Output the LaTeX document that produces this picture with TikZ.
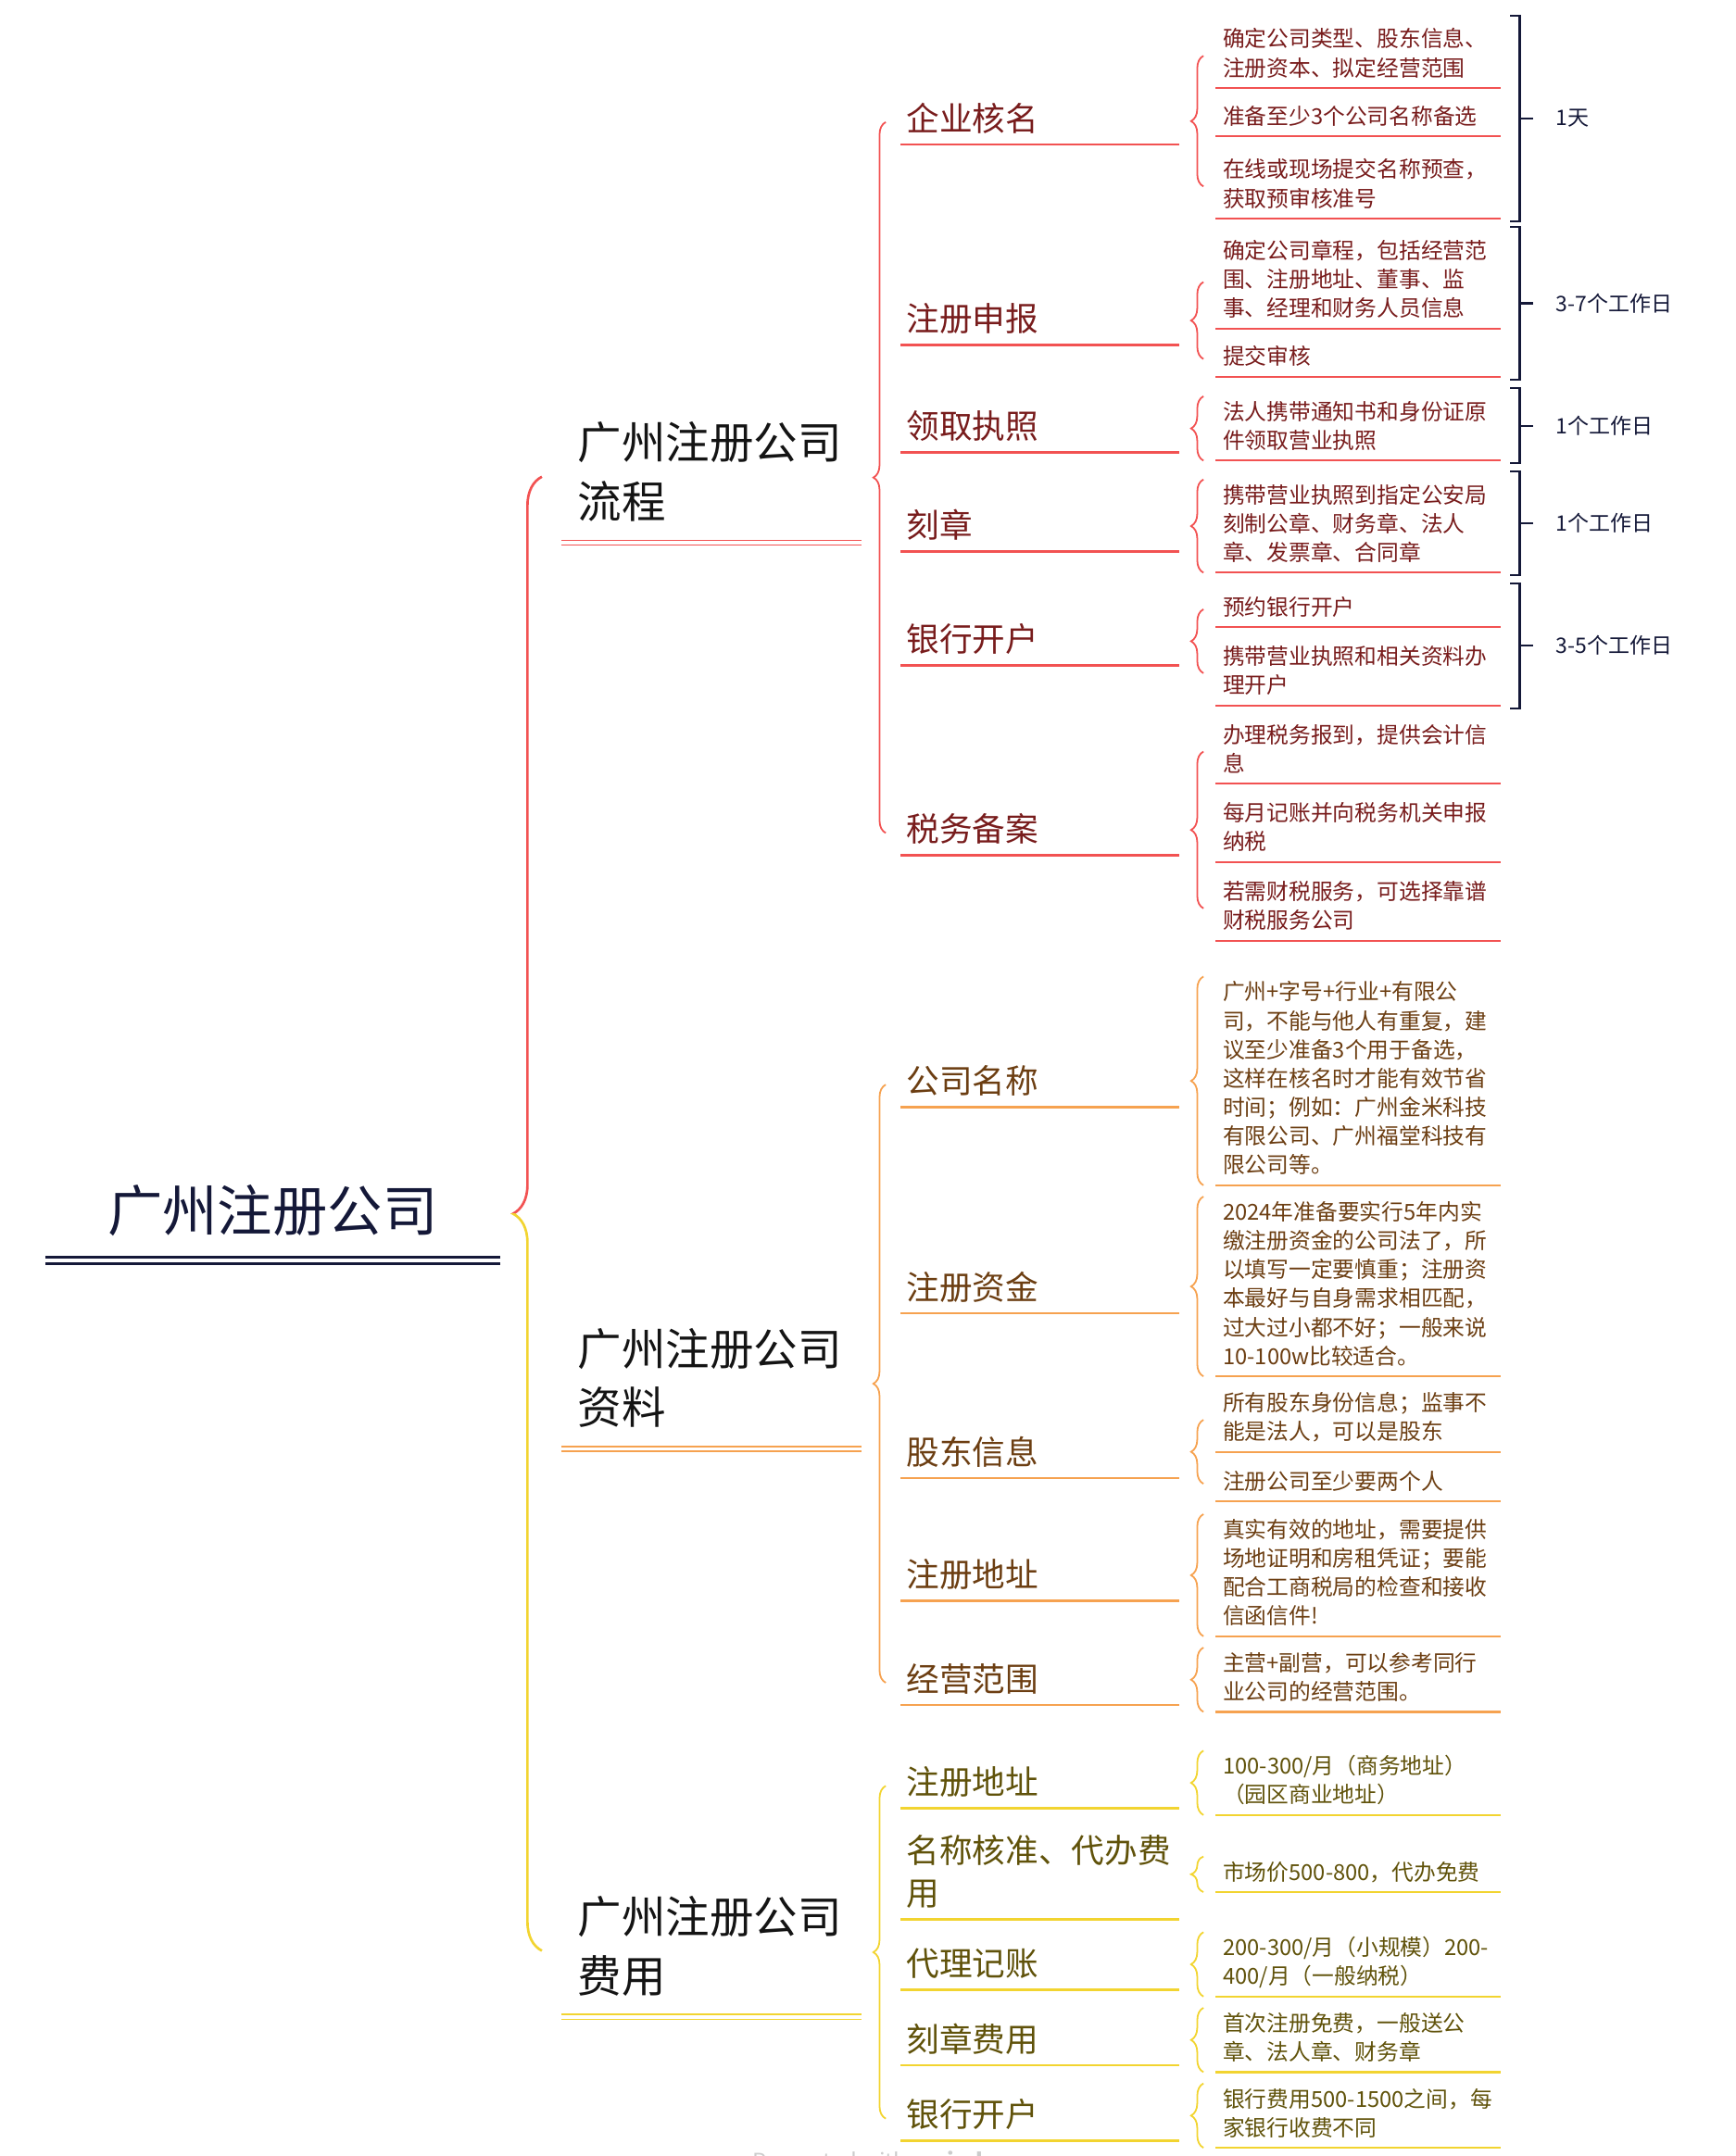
\documentclass[tikz,border=0pt]{standalone}
\usepackage{fontspec}
\setmainfont{Noto Sans CJK SC}
\usepackage{xcolor}
\usetikzlibrary{calc}
\usetikzlibrary{decorations.pathreplacing}

\definecolor{navy}{RGB}{20,24,56}
\definecolor{procline}{RGB}{242,82,82}
\definecolor{proctext}{RGB}{120,28,28}
\definecolor{infoline}{RGB}{246,162,80}
\definecolor{infotext}{RGB}{108,62,18}
\definecolor{costline}{RGB}{242,212,48}
\definecolor{costtext}{RGB}{96,82,10}

\tikzset{
	rootnode/.style={anchor=south west, text width=240pt, inner xsep=45pt, inner ysep=4.6pt, align=center, text=navy, font=\fontsize{40}{48}\selectfont, execute at begin node=\strut, execute at end node=\strut},
	mainnode/.style={anchor=south west, text width=194pt, inner xsep=12pt, inner ysep=3.1pt, align=left, text=black!92, font=\fontsize{32}{43}\selectfont, execute at begin node=\strut, execute at end node=\strut},
	topicnode/.style={anchor=south west, text width=194pt, inner xsep=4pt, inner ysep=0.5pt, align=left, font=\fontsize{24}{31}\selectfont, execute at begin node=\strut, execute at end node=\strut},
	leafnode/.style={anchor=south west, text width=197pt, inner xsep=5pt, inner ysep=2.2pt, align=left, font=\fontsize{16}{21}\selectfont, execute at begin node=\strut, execute at end node=\strut},
	daynode/.style={anchor=west, inner sep=0pt, text=navy, font=\fontsize{15.5}{19}\selectfont},
	dayline/.style={draw=navy, line width=1.5pt},
	bracedec/.style={decorate, decoration={brace, amplitude=#1}},
	proc text/.style={text=proctext},
	info text/.style={text=infotext},
	cost text/.style={text=costtext},
	proc line/.style={draw=procline, line width=1.4pt},
	info line/.style={draw=infoline, line width=1.4pt},
	cost line/.style={draw=costline, line width=1.4pt}
}

% level 2 topic with its underline
\newcommand\topicitem[4]{%
	\node[topicnode, #1 text] (#2) at (655,#3) {#4};
	\draw[#1 line, line width=1.8pt] (#2.south west) -- (#2.south east);
}
% leaf text with its underline
\newcommand\leafitem[4]{%
	\node[leafnode, #1 text] (#2) at (884,#3) {#4};
	\draw[#1 line] (#2.south west) -- (#2.south east);
}
\newcommand\leafbrace[3]{%
	\draw[#1 line, line width=1.2pt, bracedec=9pt] (leafbx |- #3) -- (leafbx |- #2);
}
\newcommand\doubleline[2]{%
	\draw[#2 line, line width=1pt] (#1.south west) -- (#1.south east);
	\draw[#2 line, line width=1pt] ([yshift=-3.5pt]#1.south west) -- ([yshift=-3.5pt]#1.south east);
}
\newcommand\daybracket[4]{%
	\coordinate (#3t) at ($(daybx |- #1.north)+(0,-6)$);
	\coordinate (#3b) at ($(daybx |- #2.south)+(0,2)$);
	\coordinate (#3m) at ($(#3t)!0.5!(#3b)$);
	\node[daynode] (#3) at ($(#3m)+(26,0)$) {#4};
	\draw[dayline] ($(#3t)+(-7,0)$) -- (#3t) -- (#3b) -- ($(#3b)+(-7,0)$);
	\draw[dayline] (#3m) -- ($(#3m)+(10,0)$);
}

\begin{document}
\begin{tikzpicture}[x=1pt,y=-1pt]
	\useasboundingbox (0,0) rectangle (1262,1568);
	\coordinate (rootbx) at (394,0);
	\coordinate (topbx) at (644,0);
	\coordinate (leafbx) at (875,0);
	\coordinate (daybx) at (1105,0);
	\coordinate (clipx) at (430,0);

	% root and main branches
	\node[rootnode] (root) at (33,914.5) {广州注册公司};
	\draw[navy, line width=1.8pt] (root.south west) -- (root.south east);
	\draw[navy, line width=1.8pt] ([yshift=-4.5pt]root.south west) -- ([yshift=-4.5pt]root.south east);

	\node[mainnode] (proc) at (408,393) {广州注册公司\\流程};
	\node[mainnode] (info) at (408,1052) {广州注册公司\\资料};
	\node[mainnode] (cost) at (408,1465) {广州注册公司\\费用};
	\doubleline{proc}{proc}
	\doubleline{info}{info}
	\doubleline{cost}{cost}

	\coordinate (rootmid) at ($(proc.west)!0.5!(cost.west)$);
	\begin{scope}
		\clip (300,0) rectangle (rootmid -| clipx);
		\draw[proc line, line width=1.8pt, bracedec=21pt] (rootbx |- cost.west) -- (rootbx |- proc.west);
	\end{scope}
	\begin{scope}
		\clip (300,1568) rectangle (rootmid -| clipx);
		\draw[cost line, line width=1.8pt, bracedec=21pt] (rootbx |- cost.west) -- (rootbx |- proc.west);
	\end{scope}

	% 流程
	\topicitem{proc}{p1}{105}{企业核名}
	\topicitem{proc}{p2}{251}{注册申报}
	\topicitem{proc}{p3}{329}{领取执照}
	\topicitem{proc}{p4}{401}{刻章}
	\topicitem{proc}{p5}{484}{银行开户}
	\topicitem{proc}{p6}{622}{税务备案}
	\draw[proc line, line width=1.2pt, bracedec=9pt] (topbx |- p6.west) -- (topbx |- p1.west);

	\leafitem{proc}{p1a}{64}{确定公司类型、股东信息、\\注册资本、拟定经营范围}
	\leafitem{proc}{p1b}{99}{准备至少3个公司名称备选}
	\leafitem{proc}{p1c}{159}{在线或现场提交名称预查，\\获取预审核准号}
	\leafitem{proc}{p2a}{239}{确定公司章程，包括经营范\\围、注册地址、董事、监\\事、经理和财务人员信息}
	\leafitem{proc}{p2b}{274}{提交审核}
	\leafitem{proc}{p3a}{335}{法人携带通知书和身份证原\\件领取营业执照}
	\leafitem{proc}{p4a}{416.5}{携带营业执照到指定公安局\\刻制公章、财务章、法人\\章、发票章、合同章}
	\leafitem{proc}{p5a}{456}{预约银行开户}
	\leafitem{proc}{p5b}{513}{携带营业执照和相关资料办\\理开户}
	\leafitem{proc}{p6a}{570}{办理税务报到，提供会计信\\息}
	\leafitem{proc}{p6b}{627}{每月记账并向税务机关申报\\纳税}
	\leafitem{proc}{p6c}{684}{若需财税服务，可选择靠谱\\财税服务公司}
	\leafbrace{proc}{p1a.west}{p1c.west}
	\leafbrace{proc}{p2a.west}{p2b.west}
	\leafbrace{proc}{p3a.north}{p3a.south}
	\leafbrace{proc}{p4a.north}{p4a.south}
	\leafbrace{proc}{p5a.west}{p5b.west}
	\leafbrace{proc}{p6a.west}{p6c.west}

	\daybracket{p1a}{p1c}{d1}{1天}
	\daybracket{p2a}{p2b}{d2}{3-7个工作日}
	\daybracket{p3a}{p3a}{d3}{1个工作日}
	\daybracket{p4a}{p4a}{d4}{1个工作日}
	\daybracket{p5a}{p5b}{d5}{3-5个工作日}

	% 资料
	\topicitem{info}{i1}{805}{公司名称}
	\topicitem{info}{i2}{955}{注册资金}
	\topicitem{info}{i3}{1075}{股东信息}
	\topicitem{info}{i4}{1164}{注册地址}
	\topicitem{info}{i5}{1240}{经营范围}
	\draw[info line, line width=1.2pt, bracedec=9pt] (topbx |- i5.west) -- (topbx |- i1.west);

	\leafitem{info}{i1a}{862}{广州+字号+行业+有限公\\司，不能与他人有重复，建\\议至少准备3个用于备选，\\这样在核名时才能有效节省\\时间；例如：广州金米科技\\有限公司、广州福堂科技有\\限公司等。}
	\leafitem{info}{i2a}{1001}{2024年准备要实行5年内实\\缴注册资金的公司法了，所\\以填写一定要慎重；注册资\\本最好与自身需求相匹配，\\过大过小都不好；一般来说\\10-100w比较适合。}
	\leafitem{info}{i3a}{1056}{所有股东身份信息；监事不\\能是法人，可以是股东}
	\leafitem{info}{i3b}{1092}{注册公司至少要两个人}
	\leafitem{info}{i4a}{1190}{真实有效的地址，需要提供\\场地证明和房租凭证；要能\\配合工商税局的检查和接收\\信函信件!}
	\leafitem{info}{i5a}{1245}{主营+副营，可以参考同行\\业公司的经营范围。}
	\leafbrace{info}{i1a.north}{i1a.south}
	\leafbrace{info}{i2a.north}{i2a.south}
	\leafbrace{info}{i3a.west}{i3b.west}
	\leafbrace{info}{i4a.north}{i4a.south}
	\leafbrace{info}{i5a.north}{i5a.south}

	% 费用
	\topicitem{cost}{c1}{1315}{注册地址}
	\topicitem{cost}{c2}{1396}{名称核准、代办费\\用}
	\topicitem{cost}{c3}{1447}{代理记账}
	\topicitem{cost}{c4}{1502}{刻章费用}
	\topicitem{cost}{c5}{1557}{银行开户}
	\draw[cost line, line width=1.2pt, bracedec=9pt] (topbx |- c5.west) -- (topbx |- c1.west);

	\leafitem{cost}{c1a}{1320}{100-300/月（商务地址）\\（园区商业地址）}
	\leafitem{cost}{c2a}{1376}{市场价500-800，代办免费}
	\leafitem{cost}{c3a}{1452}{200-300/月（小规模）200-\\400/月（一般纳税）}
	\leafitem{cost}{c4a}{1507}{首次注册免费，一般送公\\章、法人章、财务章}
	\leafitem{cost}{c5a}{1562}{银行费用500-1500之间，每\\家银行收费不同}
	\leafbrace{cost}{c1a.north}{c1a.south}
	\leafbrace{cost}{c2a.north}{c2a.south}
	\leafbrace{cost}{c3a.north}{c3a.south}
	\leafbrace{cost}{c4a.north}{c4a.south}
	\leafbrace{cost}{c5a.north}{c5a.south}

	\node[anchor=base, text=black!20, font=\fontsize{16}{19}\selectfont] (mark) at (631,1578) {Presented with \textbf{xmind}};
\end{tikzpicture}
\end{document}
